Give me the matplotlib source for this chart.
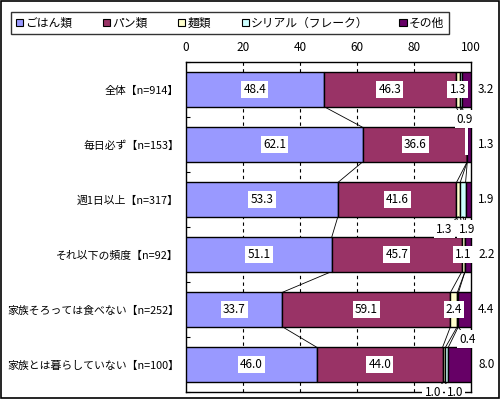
import numpy as np
import matplotlib.pyplot as plt
from matplotlib.patches import Rectangle, Patch

plt.rcParams['font.family'] = ['Noto Sans CJK JP', 'DejaVu Sans']

categories = ['全体【n=914】', '毎日必ず【n=153】', '週1日以上【n=317】',
              'それ以下の頻度【n=92】', '家族そろっては食べない【n=252】',
              '家族とは暮らしていない【n=100】']
series = ['ごはん類', 'パン類', '麺類', 'シリアル（フレーク）', 'その他']
rice = [48.4, 62.1, 53.3, 51.1, 33.7, 46.0]
bread = [46.3, 36.6, 41.6, 45.7, 59.1, 44.0]
noodle = [1.3, 0.0, 1.3, 1.1, 2.4, 1.0]
cereal = [0.9, 0.0, 1.9, 0.0, 0.4, 1.0]
other = [3.2, 1.3, 1.9, 2.2, 4.4, 8.0]
colors = ['#9999FF', '#993366', '#FFFFCC', '#CCFFFF', '#660066']

data = np.array([rice, bread, noodle, cereal, other])
cum = np.vstack([np.zeros(len(categories)), np.cumsum(data, axis=0)])

fig = plt.figure(figsize=(5, 3.99), dpi=100)
ax = fig.add_axes([0.372, 0.0175, 0.57, 0.827])

y = np.arange(len(categories))
h = 0.62
for k in range(5):
    ax.barh(y, data[k], left=cum[k], height=h, color=colors[k],
            edgecolor='black', linewidth=1.0, zorder=3)

# series lines
for i in range(len(categories) - 1):
    for k in range(1, 5):
        ax.plot([cum[k][i], cum[k][i + 1]], [i + h / 2, i + 1 - h / 2],
                color='black', lw=0.6, zorder=2)

box = dict(facecolor='white', edgecolor='none', pad=1.5)
fs = 8.5
# labels inside for rice and bread
for k in range(2):
    for i in range(len(categories)):
        ax.text(cum[k][i] + data[k][i] / 2, i, f'{data[k][i]:.1f}',
                ha='center', va='center', fontsize=fs, bbox=box, zorder=5)

# noodle labels inside where they fit
for i in [0, 3, 4]:
    ax.text(cum[2][i] + data[2][i] / 2, i, f'{noodle[i]:.1f}',
            ha='center', va='center', fontsize=fs, bbox=box, zorder=5)
# empty label box on row 1
ax.add_patch(Rectangle((cum[2][1] - 0.9, 1 - h / 2), 1.1, h * 0.8,
                       facecolor='white', edgecolor='none', zorder=5))

# other labels right of the plot
for i in range(len(categories)):
    ax.annotate(f'{other[i]:.1f}', xy=(100, i), xytext=(11, 0),
                textcoords='offset points', ha='center', va='center',
                fontsize=fs, annotation_clip=False)

# small labels below bars
def below(i, k, val, dx, dy=-9):
    xc = cum[k][i] + data[k][i] / 2
    ax.annotate(f'{val:.1f}', xy=(xc, i + h / 2), xytext=(dx, dy),
                textcoords='offset points', ha='center', va='center',
                fontsize=fs, bbox=box, zorder=6, annotation_clip=False,
                arrowprops=dict(arrowstyle='-', lw=0.6, color='black',
                                shrinkA=0, shrinkB=0))

below(0, 3, cereal[0], 3)
below(2, 2, noodle[2], -10)
below(2, 3, cereal[2], 3)
below(4, 3, cereal[4], 7)

# bottom row: leader-style labels
ax.annotate(f'{noodle[5]:.1f}', xy=(cum[2][5] + 0.5, 5 + h / 2),
            xytext=(-8, -8), textcoords='offset points', ha='center',
            va='center', fontsize=fs, bbox=box, zorder=6,
            arrowprops=dict(arrowstyle='-', lw=0.6, shrinkA=0, shrinkB=0))
ax.annotate(f'{cereal[5]:.1f}', xy=(cum[3][5] - 0.5, 5 + h / 2),
            xytext=(8, -8), textcoords='offset points', ha='center',
            va='center', fontsize=fs, bbox=box, zorder=6,
            arrowprops=dict(arrowstyle='-', lw=0.6, shrinkA=0, shrinkB=0))

ax.set_xlim(0, 100)
ax.set_ylim(len(categories) - 0.5, -0.5)
ax.set_xticks([0, 20, 40, 60, 80, 100])
ax.xaxis.tick_top()
ax.tick_params(axis='x', length=0, labelsize=fs, pad=6)
ax.set_yticks(y)
ax.set_yticklabels(categories, fontsize=7.8)
ax.tick_params(axis='y', length=0, pad=5)
ax.set_yticks(np.arange(len(categories) + 1) - 0.5, minor=True)
ax.tick_params(axis='y', which='minor', direction='in', length=3, width=0.8)
for x in [20, 40, 60, 80]:
    ax.axvline(x, color='black', lw=0.8, linestyle=(0, (3, 3)), zorder=1)
for s in ax.spines.values():
    s.set_linewidth(1.0)

handles = [Patch(facecolor=c, edgecolor='black', lw=0.8) for c in colors]
leg = fig.legend(handles, series, ncol=5, loc='upper left',
                 bbox_to_anchor=(0.01, 0.985), fontsize=fs, frameon=True,
                 fancybox=False, edgecolor='black', handlelength=0.6,
                 handleheight=0.6, handletextpad=0.2, columnspacing=2.6,
                 borderpad=0.4)
leg.get_frame().set_linewidth(1.0)

fig.patches.append(Rectangle((0.002, 0.002), 0.996, 0.995, transform=fig.transFigure,
                             fill=False, edgecolor='black', lw=1.2))

fig.savefig('out.png', dpi=100)
